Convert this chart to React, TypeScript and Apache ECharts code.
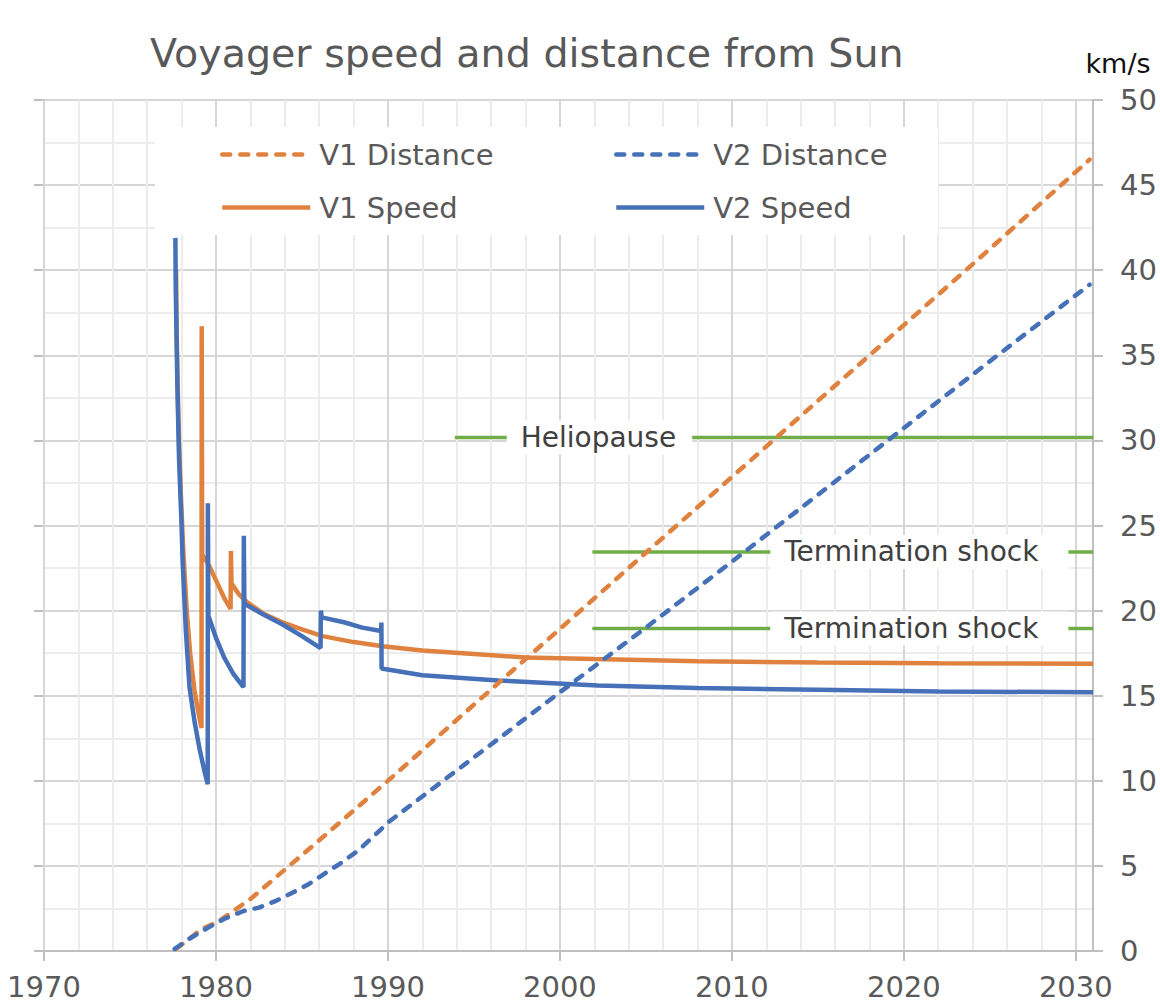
import React, { useEffect, useRef } from "react";
import * as echarts from "echarts";

const TITLE = "Voyager speed and distance from Sun";
const X_MIN = 1970;
const X_MAX = 2031;
const X_LABEL_YEARS = [1970, 1980, 1990, 2000, 2010, 2020, 2030];

// Distance from Sun (AU), left (hidden) axis 0-200
const v1Distance: [number, number][] = [
  [1977.68, 0.5], [1978.5, 3.0], [1979.17, 5.2], [1980.0, 6.6], [1980.87, 9.0],
  [1982.0, 12.2], [1984.0, 19.1], [1986.0, 26.0], [1988.0, 33.0], [1990.0, 40.0],
  [1995.0, 57.9], [2000.0, 75.7], [2005.0, 93.6], [2010.0, 111.4], [2015.0, 129.3],
  [2020.0, 147.1], [2025.0, 165.0], [2030.8, 186.0],
];
const v2Distance: [number, number][] = [
  [1977.6, 0.5], [1978.5, 3.0], [1979.5, 5.4], [1980.5, 7.6], [1981.6, 9.4],
  [1982.5, 10.2], [1983.5, 11.8], [1984.3, 13.4], [1985.3, 15.5], [1986.1, 17.6],
  [1987.2, 20.5], [1988.3, 23.7], [1989.6, 28.6], [1990.0, 30.2], [1995.0, 45.5],
  [2000.0, 60.8], [2005.0, 76.0], [2010.0, 91.5], [2015.0, 107.2], [2020.0, 122.9],
  [2025.0, 138.6], [2030.8, 156.6],
];

// Speed (km/s), right axis 0-50
const v1Speed: [number, number][] = [
  [1977.68, 40.0], [1977.72, 36.0], [1977.82, 31.0], [1977.95, 27.0], [1978.1, 23.5],
  [1978.3, 20.0], [1978.5, 17.5], [1978.75, 15.3], [1979.0, 13.9], [1979.16, 13.1],
  [1979.17, 36.7], [1979.2, 23.3], [1979.62, 22.6], [1980.2, 21.35], [1980.5, 20.7],
  [1980.85, 20.1], [1980.87, 23.5], [1980.9, 21.6], [1981.3, 21.0], [1981.8, 20.5],
  [1982.8, 19.8], [1983.9, 19.3], [1985.0, 18.9], [1986.2, 18.5], [1988.0, 18.15],
  [1989.7, 17.9], [1992.0, 17.65], [1995.0, 17.45], [1998.0, 17.25], [2002.0, 17.15],
  [2008.0, 17.02], [2015.0, 16.95], [2022.0, 16.9], [2031.0, 16.88],
];
const v2Speed: [number, number][] = [
  [1977.64, 41.9], [1977.66, 39.0], [1977.75, 33.5], [1977.85, 29.0], [1978.0, 25.0],
  [1978.06, 22.9], [1978.25, 18.8], [1978.46, 15.5], [1978.75, 13.5], [1979.04, 11.9],
  [1979.3, 10.7], [1979.52, 9.8], [1979.53, 26.3], [1979.56, 19.7], [1980.0, 18.4],
  [1980.5, 17.2], [1981.0, 16.3], [1981.6, 15.5], [1981.62, 24.4], [1981.65, 20.4],
  [1982.7, 19.8], [1983.85, 19.2], [1985.0, 18.5], [1986.08, 17.8], [1986.1, 20.0],
  [1986.15, 19.6], [1987.5, 19.3], [1988.5, 19.0], [1989.6, 18.8], [1989.62, 19.3],
  [1989.63, 16.6], [1992.0, 16.2], [1996.4, 15.9], [2002.2, 15.6], [2008.0, 15.45],
  [2015.0, 15.35], [2022.0, 15.25], [2031.0, 15.2],
];

// Boundaries (AU)
const heliopause = { start: 1993.9, labelAt: 2002.3, end: 2031, au: 120.7, text: "Heliopause" };
const terminationShockV1 = { start: 2001.9, labelAt: 2020.9, end: 2031, au: 93.8, text: "Termination shock" };
const terminationShockV2 = { start: 2001.9, labelAt: 2020.9, end: 2031, au: 75.8, text: "Termination shock" };

const ORANGE = "#E0823F";
const BLUE = "#4670B8";
const GREEN = "#70AD47";
const FONT = "DejaVu Sans";
const TEXT = "#595959";
const DASH = [8, 10];

function boundarySeries(b: typeof heliopause, pad: number[]) {
  return {
    type: "line",
    name: b.text + b.au,
    xAxisIndex: 1,
    yAxisIndex: 0,
    symbol: "circle",
    symbolSize: 1,
    showSymbol: true,
    itemStyle: { color: GREEN },
    lineStyle: { color: GREEN, width: 3.5 },
    silent: true,
    z: 2,
    data: [
      [b.start, b.au],
      {
        value: [b.labelAt, b.au],
        label: {
          show: true,
          position: "inside",
          formatter: b.text,
          backgroundColor: "#ffffff",
          padding: pad,
          fontSize: 28,
          fontFamily: FONT,
          color: "#404040",
        },
      },
      [b.end, b.au],
    ],
  };
}

export default function App() {
  const ref = useRef<HTMLDivElement>(null);
  useEffect(() => {
    document.body.style.margin = "0";
    const chart = echarts.init(ref.current!, null, { renderer: "svg" });
    const legendText = { fontSize: 29, fontFamily: FONT, color: TEXT, padding: [0, 0, 0, 4] };
    const legendItem = (name: string, left: number, top: number) => ({
      data: [name],
      left,
      top,
      padding: 0,
      itemWidth: 88,
      itemHeight: 14,
      selectedMode: false,
      textStyle: legendText,
      itemStyle: { opacity: 0 },
      lineStyle: { width: 4.5 },
      z: 5,
    });
    chart.setOption({
      animation: false,
      backgroundColor: "#ffffff",
      title: {
        text: TITLE,
        left: 150,
        top: 33,
        padding: 0,
        textStyle: { fontFamily: FONT, fontSize: 39.6, fontWeight: "normal", color: TEXT },
      },
      legend: [
        legendItem("V1 Distance", 220, 140),
        legendItem("V2 Distance", 614, 140),
        legendItem("V1 Speed", 220, 193),
        legendItem("V2 Speed", 614, 193),
      ],
      graphic: [
        {
          type: "rect",
          shape: { x: 155, y: 127, width: 783, height: 108 },
          style: { fill: "#ffffff" },
          z: 4,
          silent: true,
        },
      ],
      grid: { left: 44, right: 67, top: 100, bottom: 53, containLabel: false },
      xAxis: [
        {
          type: "value",
          min: X_MIN,
          max: X_MAX,
          interval: 10,
          z: 1,
          axisLine: { show: true, lineStyle: { color: "#bfbfbf", width: 2 } },
          axisTick: { show: true, length: 10, customValues: X_LABEL_YEARS, lineStyle: { color: "#bfbfbf", width: 2 } },
          axisLabel: {
            customValues: X_LABEL_YEARS,
            margin: 21,
            fontSize: 29,
            fontFamily: FONT,
            color: TEXT,
            formatter: (v: number) => String(v),
          },
          splitLine: { show: true, lineStyle: { color: "#d6d6d6", width: 2 } },
        },
        {
          type: "value",
          min: X_MIN,
          max: X_MAX,
          interval: 2,
          z: 0,
          axisLine: { show: false },
          axisTick: { show: false },
          axisLabel: { show: false },
          splitLine: { show: true, lineStyle: { color: "#ececec", width: 2 } },
        },
      ],
      yAxis: [
        {
          type: "value",
          position: "left",
          min: 0,
          max: 200,
          interval: 20,
          axisLine: { show: true, lineStyle: { color: "#bfbfbf", width: 2 } },
          axisTick: { show: true, length: 10, lineStyle: { color: "#bfbfbf", width: 2 } },
          axisLabel: { show: false },
          splitLine: { show: true, lineStyle: { color: "#d6d6d6", width: 2 } },
          minorTick: { show: false, splitNumber: 2 },
          minorSplitLine: { show: true, lineStyle: { color: "#ececec", width: 2 } },
        },
        {
          type: "value",
          position: "right",
          min: 0,
          max: 50,
          interval: 5,
          name: "km/s",
          nameLocation: "end",
          nameGap: 37,
          nameTextStyle: { fontFamily: FONT, fontSize: 27, color: "#111111", align: "center", verticalAlign: "middle", padding: [0, 0, 0, 50] },
          axisLine: { show: true, lineStyle: { color: "#bfbfbf", width: 2 } },
          axisTick: { show: true, length: 10, lineStyle: { color: "#bfbfbf", width: 2 } },
          axisLabel: { margin: 27, fontSize: 29, fontFamily: FONT, color: TEXT },
          splitLine: { show: false },
        },
      ],
      series: [
        boundarySeries(heliopause, [3, 16, 3, 14]),
        boundarySeries(terminationShockV1, [3, 30, 3, 14]),
        boundarySeries(terminationShockV2, [3, 30, 3, 14]),
        {
          type: "line",
          name: "V1 Speed",
          xAxisIndex: 1,
          yAxisIndex: 1,
          symbol: "none",
          silent: true,
          itemStyle: { color: ORANGE },
          lineStyle: { color: ORANGE, width: 4.5 },
          data: v1Speed,
          z: 3,
        },
        {
          type: "line",
          name: "V2 Speed",
          xAxisIndex: 1,
          yAxisIndex: 1,
          symbol: "none",
          silent: true,
          itemStyle: { color: BLUE },
          lineStyle: { color: BLUE, width: 4.5 },
          data: v2Speed,
          z: 3,
        },
        {
          type: "line",
          name: "V1 Distance",
          xAxisIndex: 1,
          yAxisIndex: 0,
          symbol: "none",
          silent: true,
          itemStyle: { color: ORANGE },
          lineStyle: { color: ORANGE, width: 4.5, type: DASH, cap: "round" },
          data: v1Distance,
          z: 3,
        },
        {
          type: "line",
          name: "V2 Distance",
          xAxisIndex: 1,
          yAxisIndex: 0,
          symbol: "none",
          silent: true,
          itemStyle: { color: BLUE },
          lineStyle: { color: BLUE, width: 4.5, type: DASH, cap: "round" },
          data: v2Distance,
          z: 3,
        },
      ],
    });
    return () => chart.dispose();
  }, []);
  return <div ref={ref} style={{ position: "fixed", left: 0, top: 0, width: 1160, height: 1004 }} />;
}
